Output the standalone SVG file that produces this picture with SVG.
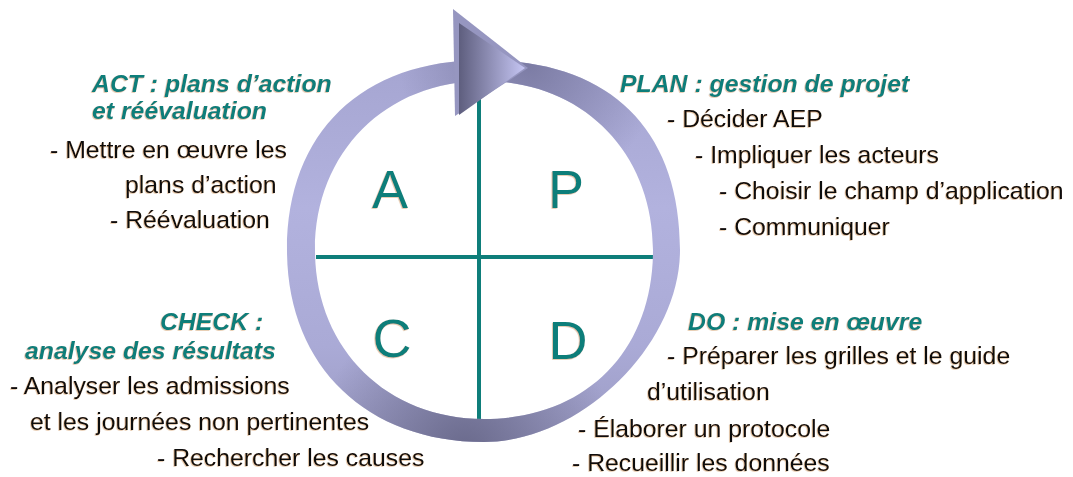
<svg xmlns="http://www.w3.org/2000/svg" width="1073" height="477" viewBox="0 0 1073 477">
<style>
  text { font-family: "Liberation Sans", Arial, sans-serif; }
  .head { font-size: 24.8px; font-weight: bold; font-style: italic; fill: #0e7e7a; }
  .body { font-size: 24.8px; fill: #0a0a0a; }
  .letter { font-size: 54px; fill: #0e7e7a; text-anchor: middle; }
  .cross { stroke: #0e7e7a; stroke-width: 4; fill: none; }
  .sh { filter: url(#shadow); }
</style>
<defs>
  <filter id="shadow" x="-5%" y="-20%" width="110%" height="140%">
    <feDropShadow dx="-0.8" dy="0.8" stdDeviation="0.4" flood-color="#c07830" flood-opacity="0.45"/>
  </filter>
  <linearGradient id="ringBase" gradientUnits="userSpaceOnUse" x1="0" y1="50" x2="0" y2="445">
    <stop offset="0" stop-color="#a4a4d0"/>
    <stop offset="0.4" stop-color="#b2b2de"/>
    <stop offset="0.75" stop-color="#aaaad6"/>
    <stop offset="1" stop-color="#9a9ac2"/>
  </linearGradient>
  <radialGradient id="ringDarkBottom" gradientUnits="userSpaceOnUse" cx="465" cy="450" r="150">
    <stop offset="0" stop-color="#6a6a8c" stop-opacity="1"/>
    <stop offset="1" stop-color="#6a6a8c" stop-opacity="0"/>
  </radialGradient>
  <radialGradient id="ringDarkTop" gradientUnits="userSpaceOnUse" cx="530" cy="65" r="130">
    <stop offset="0" stop-color="#7a7aa2" stop-opacity="0.95"/>
    <stop offset="1" stop-color="#7a7aa2" stop-opacity="0"/>
  </radialGradient>
  <linearGradient id="arrowFace" x1="0" y1="0" x2="1" y2="0">
    <stop offset="0" stop-color="#5e5e7e"/>
    <stop offset="1" stop-color="#c6c6f4"/>
  </linearGradient>
  <path id="ringShape" fill-rule="evenodd" d="M484,60 C609.4,60 680,128.4 680,250 C680,344.8 580.8,442 484,442 C365.8,442 287,365.2 287,250 C287,132.2 361.9,60 484,60 Z M484,81 C582,81 653,152 653,250 C653,351.4 585.4,419 484,419 C386,419 315,348 315,250 C315,152 386,81 484,81 Z"/>
</defs>
<rect width="1073" height="477" fill="#ffffff"/>

<g id="connectors">
  <g id="cross">
    <line class="cross" x1="316" y1="257" x2="653" y2="257"/>
    <line class="cross" x1="479" y1="70" x2="479" y2="419"/>
  </g>
  <g id="cycle-arrow">
    <use href="#ringShape" fill="url(#ringBase)"/>
    <use href="#ringShape" fill="url(#ringDarkBottom)"/>
    <use href="#ringShape" fill="url(#ringDarkTop)"/>
    <polygon points="453,9 528,68 455,116" fill="#9696c0"/>
    <polygon points="459,23 525,68 459,115" fill="url(#arrowFace)"/>
  </g>
</g>

<g id="node-act">
  <text class="letter sh" x="390" y="208">A</text>
  <text class="head sh" x="92" y="92">ACT : plans d’action</text>
  <text class="head sh" x="92" y="119">et réévaluation</text>
  <text class="body sh" x="50" y="158">- Mettre en œuvre les</text>
  <text class="body sh" x="125" y="193">plans d’action</text>
  <text class="body sh" x="110" y="228">- Réévaluation</text>
</g>

<g id="node-plan">
  <text class="letter sh" x="566" y="208">P</text>
  <text class="head sh" x="620" y="92">PLAN : gestion de projet</text>
  <text class="body sh" x="667" y="127">- Décider AEP</text>
  <text class="body sh" x="695" y="163">- Impliquer les acteurs</text>
  <text class="body sh" x="719" y="199">- Choisir le champ d’application</text>
  <text class="body sh" x="719" y="235">- Communiquer</text>
</g>

<g id="node-check">
  <text class="letter sh" x="392" y="357">C</text>
  <text class="head sh" x="160" y="330">CHECK :</text>
  <text class="head sh" x="25" y="359">analyse des résultats</text>
  <text class="body sh" x="10" y="394">- Analyser les admissions</text>
  <text class="body sh" x="30" y="430">et les journées non pertinentes</text>
  <text class="body sh" x="157" y="466">- Rechercher les causes</text>
</g>

<g id="node-do">
  <text class="letter sh" x="568" y="359">D</text>
  <text class="head sh" x="688" y="330">DO : mise en œuvre</text>
  <text class="body sh" x="667" y="364">- Préparer les grilles et le guide</text>
  <text class="body sh" x="647" y="400">d’utilisation</text>
  <text class="body sh" x="578" y="437">- Élaborer un protocole</text>
  <text class="body sh" x="572" y="471">- Recueillir les données</text>
</g>
</svg>
